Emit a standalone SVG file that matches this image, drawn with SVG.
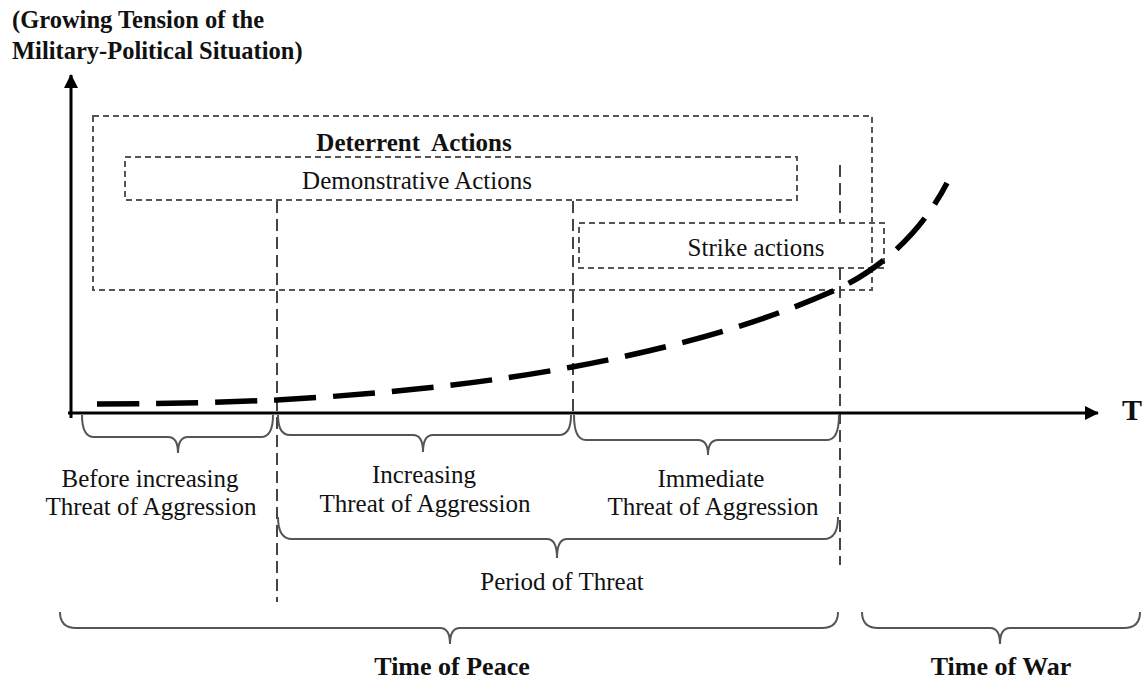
<svg xmlns="http://www.w3.org/2000/svg" width="1144" height="683" viewBox="0 0 1144 683">
<defs>
<style>
text{font-family:'Liberation Serif','Times New Roman','DejaVu Serif',serif;font-size:25px;fill:#111;}
.b{font-weight:bold;}
.m{text-anchor:middle;}
.big{font-size:26px;}
.box{fill:none;stroke:#555;stroke-width:2;stroke-dasharray:6 4;}
.vl{fill:none;stroke:#444;stroke-width:2;stroke-dasharray:12 6;}
.br{fill:none;stroke:#555;stroke-width:2;}
.ax{fill:none;stroke:#000;stroke-width:3;}
</style>
<marker id="ah" viewBox="0 0 14 14" refX="13" refY="7" markerWidth="14" markerHeight="14" markerUnits="userSpaceOnUse" orient="auto">
<path d="M0,0 L14,7 L0,14 Z" fill="#000"/>
</marker>
</defs>
<rect width="1144" height="683" fill="#fff"/>

<g id="title">
<text class="b" x="12" y="28" style="font-size:24.5px">(Growing Tension of the</text>
<text class="b" x="12" y="59" style="font-size:24.5px">Military-Political Situation)</text>
</g>

<g id="deterrent">
<rect class="box" x="93" y="116" width="779" height="174"/>
<text class="b m" x="414" y="151" xml:space="preserve">Deterrent  Actions</text>
</g>

<g id="demonstrative">
<rect class="box" x="125" y="157" width="672" height="43"/>
<text class="m" x="417" y="189">Demonstrative Actions</text>
</g>

<g id="strike">
<rect class="box" x="579" y="223" width="305" height="45"/>
<text class="m" x="756" y="256">Strike actions</text>
</g>

<g id="connectors">
<line class="vl" x1="277" y1="201" x2="277" y2="602"/>
<line class="vl" x1="573" y1="201" x2="573" y2="413"/>
<line class="vl" x1="840" y1="165" x2="840" y2="222"/>
<line class="vl" x1="840" y1="268" x2="840" y2="565"/>
<line class="ax" x1="71" y1="418" x2="71" y2="75" marker-end="url(#ah)"/>
<line class="ax" x1="68" y1="413" x2="1098" y2="413" marker-end="url(#ah)"/>
<path d="M97,404 C180,404 230,402 277,400 C400,393 490,382 572,367 C700,343 780,315 840,288 C880,268 920,235 947,183" fill="none" stroke="#000" stroke-width="5.5" stroke-dasharray="42 17"/>
<path class="br" d="M82,415 Q82,437 94,437 L168,437 Q178,437 178,453 Q178,437 188,437 L261,437 Q273,437 273,415"/>
<path class="br" d="M278,415 Q278,435 290,435 L413,435 Q423,435 423,452 Q423,435 433,435 L559,435 Q571,435 571,415"/>
<path class="br" d="M574,415 Q574,440 586,440 L698,440 Q708,440 708,455 Q708,440 718,440 L827,440 Q839,440 839,415"/>
<path class="br" d="M278,517 Q278,539 292,539 L547,539 Q557,539 557,558 Q557,539 567,539 L824,539 Q838,539 838,517"/>
<path class="br" d="M60,612 Q60,628 76,628 L440,628 Q450,628 450,644 Q450,628 460,628 L822,628 Q838,628 838,612"/>
<path class="br" d="M862,612 Q862,628 878,628 L990,628 Q1000,628 1000,644 Q1000,628 1010,628 L1124,628 Q1140,628 1140,612"/>
</g>

<g id="labels">
<text class="b" x="1122" y="420" style="font-size:30px">T</text>
<text class="m" x="150" y="487">Before increasing</text>
<text class="m" x="151" y="515">Threat of Aggression</text>
<text class="m" x="424" y="483">Increasing</text>
<text class="m" x="425" y="512">Threat of Aggression</text>
<text class="m" x="711" y="487">Immediate</text>
<text class="m" x="713" y="515">Threat of Aggression</text>
<text class="m" x="562" y="590">Period of Threat</text>
<text class="b m big" x="452" y="675">Time of Peace</text>
<text class="b m big" x="1001" y="675">Time of War</text>
</g>
</svg>
